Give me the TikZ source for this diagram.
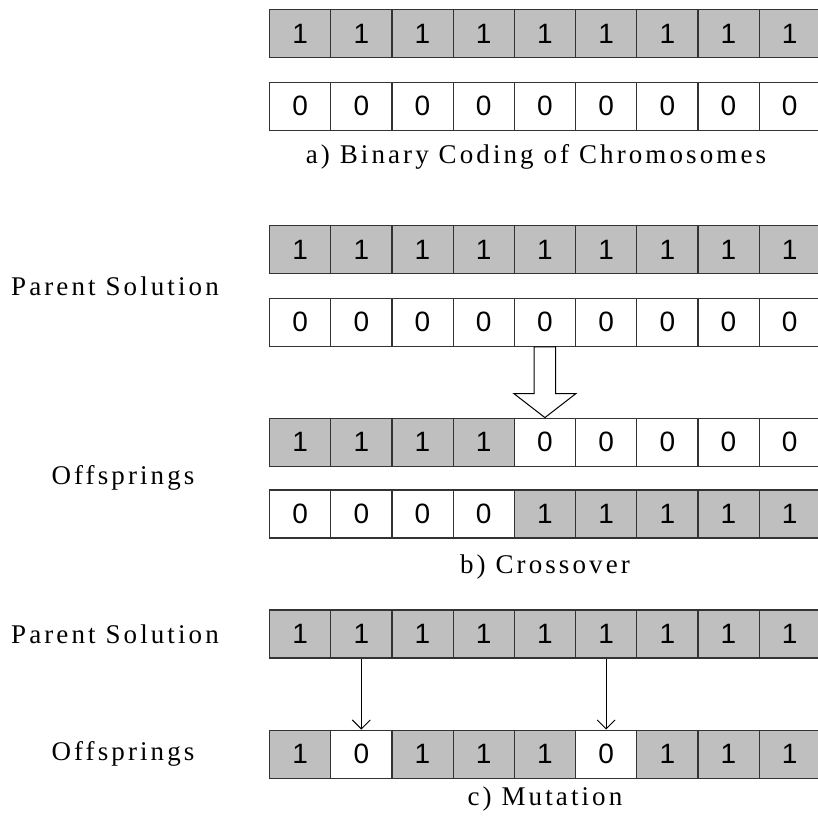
\documentclass[tikz,border=0pt]{standalone}
\usepackage{fontspec}
\newfontfamily\labelfont{Liberation Serif}[LetterSpace=11.5]
\newfontfamily\bitfont{Liberation Sans}
\usepackage{tikz}
\usetikzlibrary{%
  arrows.meta,%
  positioning,%
  calc%
}
\colorlet{bit1}{black!25}
\colorlet{bit0}{white}

\begin{document}
\begin{tikzpicture}[
  x=0.5pt, y=-0.5pt,
  cell/.style={draw=black!80, line width=0.6pt, fill=bit#1, inner sep=0pt,
    minimum width=30.6pt, minimum height=24pt,
    font=\bitfont\fontsize{14}{16}\selectfont},
  lbl/.style={inner sep=0pt, font=\labelfont\fontsize{13.5}{15}\selectfont},
  mut/.style={-{Straight Barb[length=4.5pt,width=9pt]}, line width=0.5pt},
  blk/.style={draw=black, fill=white, line width=0.5pt}
]
\useasboundingbox (0,0) rectangle (817,817);

% chromosomes, one row each
\foreach \r/\y/\bits in {%
    a1/33.9/{1,1,1,1,1,1,1,1,1}, a2/106.2/{0,0,0,0,0,0,0,0,0},%
    b1/249.6/{1,1,1,1,1,1,1,1,1}, b2/322.2/{0,0,0,0,0,0,0,0,0},%
    b3/442.2/{1,1,1,1,0,0,0,0,0}, b4/513.9/{0,0,0,0,1,1,1,1,1},%
    c1/633.9/{1,1,1,1,1,1,1,1,1}, c2/754.2/{1,0,1,1,1,0,1,1,1}}
  \foreach \v [count=\i] in \bits
    \node[cell=\v] (\r-\i) at ({269.5+(\i-0.5)*61.2},\y) {\v};

\node[lbl] (capA) at (536,157) {a) Binary Coding of Chromosomes};
\node[lbl] (capB) at (545,567) {b) Crossover};
\node[lbl] (capC) at (545,799) {c) Mutation};

\node[lbl] (parB) at (115,286) {Parent Solution};
\node[lbl] (offB) at (123,478) {Offsprings};
\node[lbl] (parC) at (115,634) {Parent Solution};
\node[lbl] (offC) at (123,754) {Offsprings};

% crossover arrow
\draw[blk] ($(b2-5.south)+(-10.7,0)$) -- ($(b2-5.south)+(10.7,0)$)
  -- ($(b3-5.north)+(10.7,-24)$) -- ($(b3-5.north)+(31,-24)$)
  -- (b3-5.north)
  -- ($(b3-5.north)+(-31,-24)$) -- ($(b3-5.north)+(-10.7,-24)$) -- cycle;

% mutation
\draw[mut] (c1-2) -- (c2-2);
\draw[mut] (c1-6) -- (c2-6);
\end{tikzpicture}
\end{document}
